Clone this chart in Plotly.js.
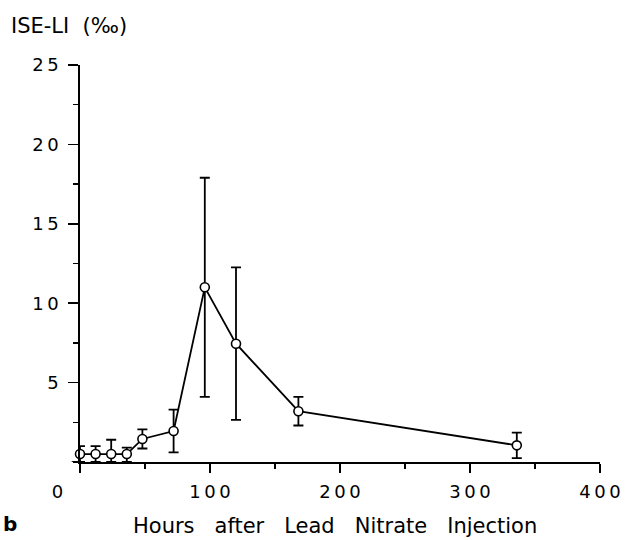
<!DOCTYPE html>
<html>
<head>
<meta charset="utf-8">
<script src="https://cdn.plot.ly/plotly-3.0.1.min.js"></script>
<style>html,body{margin:0;padding:0;background:#fff;}</style>
</head>
<body>
<div id="chart" style="width:626px;height:540px;"></div>
<script>
// Data
const hours = [0, 12, 24, 36, 48, 72, 96, 120, 168, 336];
const iseLI = [0.5, 0.5, 0.5, 0.5, 1.45, 1.95, 11.0, 7.45, 3.2, 1.05];
const errPlus = [0.5, 0.5, 0.9, 0.4, 0.6, 1.35, 6.9, 4.8, 0.9, 0.8];
const errMinus = [0.5, 0.5, 0.5, 0.5, 0.6, 1.35, 6.9, 4.8, 0.9, 0.8];
const xTickVals = [0, 100, 200, 300, 400];
const xTickText = ["0\u2003\u2003\u2002", "1\u20090\u20090", "2\u20090\u20090", "3\u20090\u20090", "4\u20090\u20090"];
const yTickVals = [5, 10, 15, 20, 25];
const yTickText = ["5", "1\u20090", "1\u20095", "2\u20090", "2\u20095"];

const FONT = "DejaVu Sans, sans-serif";

const trace = {
  x: hours,
  y: iseLI,
  type: "scatter",
  mode: "lines+markers",
  line: {color: "#000", width: 1.8},
  marker: {symbol: "circle", size: 9, color: "#fff", line: {color: "#000", width: 1.6}},
  error_y: {type: "data", symmetric: false, array: errPlus, arrayminus: errMinus,
            color: "#000", thickness: 1.8, width: 5},
  cliponaxis: false,
  showlegend: false
};

const layout = {
  width: 626, height: 540,
  margin: {l: 80, r: 26, t: 65, b: 77.5},
  paper_bgcolor: "#fff", plot_bgcolor: "#fff",
  font: {family: FONT, color: "#000", size: 18},
  xaxis: {
    range: [0, 400], showgrid: false, zeroline: false,
    showline: true, linecolor: "#000", linewidth: 1.8,
    ticks: "outside", ticklen: 9, tickwidth: 1.5, tickcolor: "#000",
    tickvals: xTickVals, ticktext: xTickText,
    tickfont: {family: FONT, size: 18, color: "#000"},
    ticklabelstandoff: 4,
    minor: {ticks: "outside", ticklen: 5, tickwidth: 1.3, tickcolor: "#000", dtick: 50, tick0: 0, showgrid: false}
  },
  yaxis: {
    range: [0, 25], showgrid: false, zeroline: false,
    showline: true, linecolor: "#000", linewidth: 1.6,
    ticks: "outside", ticklen: 10, tickwidth: 1.5, tickcolor: "#000",
    tickvals: yTickVals, ticktext: yTickText,
    tickfont: {family: FONT, size: 18, color: "#000"},
    ticklabelstandoff: 6,
    minor: {ticks: "outside", ticklen: 5, tickwidth: 1.3, tickcolor: "#000", dtick: 2.5, tick0: 0, showgrid: false}
  },
  shapes: [
    {type: "line", xref: "paper", yref: "y", x0: -0.016, x1: 0, y0: 0, y1: 0,
     line: {color: "#000", width: 1.8}}
  ],
  annotations: [
    {text: "ISE-LI\u00a0\u00a0(‰)", xref: "paper", yref: "paper", x: -0.136, y: 1.098,
     xanchor: "left", yanchor: "middle", showarrow: false,
     font: {family: FONT, size: 21, color: "#000"}},
    {text: "<b>b</b>", xref: "paper", yref: "paper", x: -0.152, y: -0.157,
     xanchor: "left", yanchor: "middle", showarrow: false,
     font: {family: FONT, size: 20, color: "#000"}},
    {text: "Hours\u00a0\u00a0\u00a0after\u00a0\u00a0\u00a0Lead\u00a0\u00a0\u00a0Nitrate\u00a0\u00a0\u00a0Injection",
     xref: "paper", yref: "paper", x: 0.49, y: -0.162,
     xanchor: "center", yanchor: "middle", showarrow: false,
     font: {family: FONT, size: 21, color: "#000"}}
  ]
};

Plotly.newPlot("chart", [trace], layout, {displayModeBar: false, staticPlot: true});
</script>
</body>
</html>
